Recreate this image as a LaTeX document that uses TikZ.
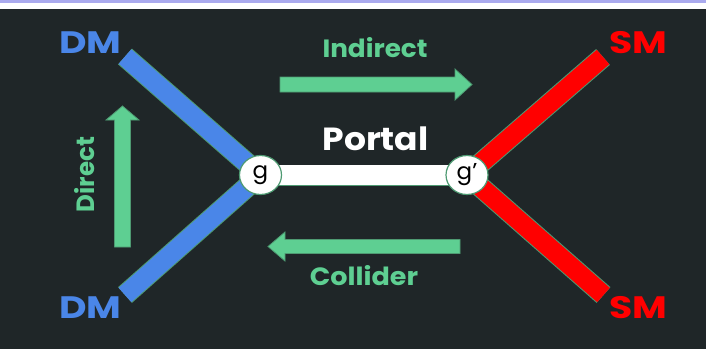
\documentclass[tikz,border=0pt]{standalone}
\usepackage{fontspec}
\usepackage{graphicx}
\setmainfont{Poppins}
\usetikzlibrary{shapes.geometric}

\definecolor{bgdark}{HTML}{1F2628}
\definecolor{topband}{HTML}{AAAAEE}
\definecolor{dmblue}{HTML}{4A86E8}
\definecolor{smred}{HTML}{FF0000}
\definecolor{flowgreen}{HTML}{5ECF92}
\definecolor{edgegreen}{HTML}{4E9A72}

\newcommand{\widen}[2]{\scalebox{#1}[1]{#2}}

\tikzset{
  leg/.style={line width=21pt, draw=edgegreen},
  legfill/.style={line width=19pt},
  vertex/.style={ellipse, draw=edgegreen, line width=1.2pt, fill=white,
    minimum width=42pt, minimum height=39pt, inner sep=0pt,
    font=\fontsize{23}{23}\selectfont, text=black},
  particle/.style={font=\fontsize{31}{31}\selectfont\bfseries, inner sep=0pt},
  flowlabel/.style={font=\fontsize{25}{25}\selectfont\bfseries, text=flowgreen, inner sep=0pt},
  fatarrow/.style={fill=flowgreen, draw=edgegreen, line width=0.8pt, line join=miter},
}

\begin{document}
\begin{tikzpicture}[x=1pt, y=-1pt]
  \useasboundingbox (0,0) rectangle (706,349);
  % backdrop and header band
  \fill[bgdark] (0,0) rectangle (706,349);
  \fill[topband] (0,0) rectangle (706,3);
  \fill[white] (0,3) rectangle (706,9);

  % vertices and leg ends
  \coordinate (gc)  at (260.5,175);
  \coordinate (gpc) at (467,175);
  \coordinate (dmTend) at (125,56.5);
  \coordinate (dmBend) at (125,295);
  \coordinate (smTend) at (603,57);
  \coordinate (smBend) at (603.5,295);

  % dark-matter legs
  \draw[leg] (dmTend) -- (gc);
  \draw[leg] (dmBend) -- (gc);
  \draw[legfill, dmblue] (dmTend) -- (gc);
  \draw[legfill, dmblue] (dmBend) -- (gc);
  % standard-model legs
  \draw[leg] (smTend) -- (gpc);
  \draw[leg] (smBend) -- (gpc);
  \draw[legfill, smred] (smTend) -- (gpc);
  \draw[legfill, smred] (smBend) -- (gpc);
  % portal propagator
  \draw[line width=21pt, draw=edgegreen] (gc) -- (gpc);
  \draw[line width=19.5pt, white] (gc) -- (gpc);

  \node[vertex] (g)  at (gc)  {g};
  \node[vertex] (gp) at (gpc) {g’};

  % particle labels
  \node[particle, text=dmblue] (dmT) at (90.5,43)    {\widen{1.22}{DM}};
  \node[particle, text=dmblue] (dmB) at (90.5,307.5) {\widen{1.22}{DM}};
  \node[particle, text=smred]  (smT) at (638,43)     {\widen{1.22}{SM}};
  \node[particle, text=smred]  (smB) at (638,307.5)  {\widen{1.22}{SM}};

  \node[font=\fontsize{32}{32}\selectfont\bfseries, text=white, inner sep=0pt]
    (portal) at (375.5,138.5) {\widen{1.08}{Portal}};

  % search-channel arrows
  \filldraw[fatarrow] (280,77) -- (455,77) -- (455,69) -- (472,84.5)
    -- (455,100) -- (455,92) -- (280,92) -- cycle;
  \node[flowlabel] (indirect) at (375,48) {\widen{1.05}{Indirect}};

  \filldraw[fatarrow] (460,239.5) -- (285,239.5) -- (285,232) -- (268,246.5)
    -- (285,261) -- (285,253.5) -- (460,253.5) -- cycle;
  \node[flowlabel] (collider) at (364,275.5) {\widen{1.08}{Collider}};

  \filldraw[fatarrow] (114.5,247) -- (114.5,120) -- (106,120) -- (122.5,106)
    -- (139,120) -- (130.5,120) -- (130.5,247) -- cycle;
  \node[flowlabel, rotate=90] (direct) at (84.5,174.5) {\widen{0.98}{Direct}};
\end{tikzpicture}
\end{document}
